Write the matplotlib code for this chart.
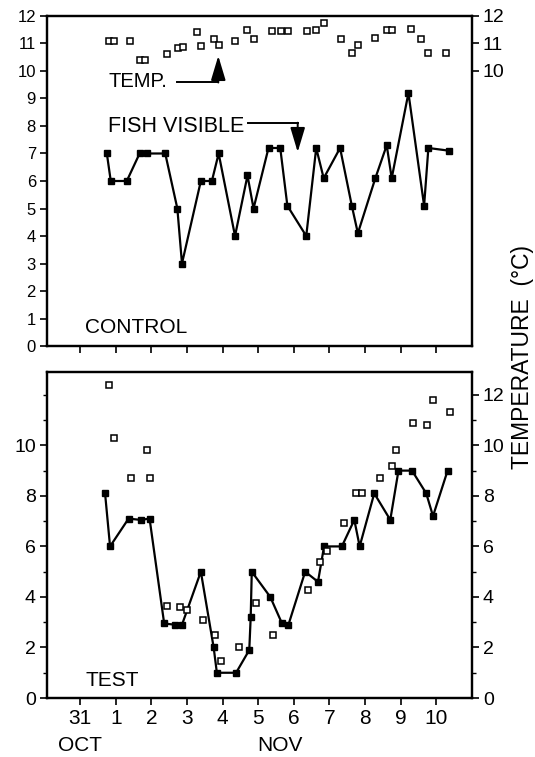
import matplotlib.pyplot as plt
from matplotlib.ticker import MultipleLocator
from matplotlib.transforms import blended_transform_factory

plt.rcParams["font.family"] = ["Liberation Sans", "DejaVu Sans"]

# times are days after the 31 Oct tick mark
ctrl_fish_t = [0.75, 0.86, 1.31, 1.67, 1.87, 2.39, 2.73, 2.86, 3.39, 3.70,
               3.89, 4.35, 4.70, 4.87, 5.29, 5.62, 5.82, 6.35, 6.63, 6.84,
               7.30, 7.63, 7.80, 8.29, 8.61, 8.75, 9.22, 9.66, 9.78, 10.37]
ctrl_fish = [7, 6, 6, 7, 7, 7, 5, 3, 6, 6,
             7, 4, 6.2, 5, 7.2, 7.2, 5.1, 4, 7.2, 6.1,
             7.2, 5.1, 4.1, 6.1, 7.3, 6.1, 9.2, 5.1, 7.2, 7.1]

ctrl_temp_t = [0.82, 0.94, 1.40, 1.67, 1.83, 2.43, 2.76, 2.90, 3.28, 3.39,
               3.75, 3.89, 4.35, 4.68, 4.87, 5.38, 5.65, 5.85, 6.37, 6.63,
               6.85, 7.33, 7.63, 7.79, 8.29, 8.61, 8.75, 9.29, 9.57, 9.76, 10.27]
ctrl_temp = [11.1, 11.1, 11.1, 10.4, 10.4, 10.6, 10.85, 10.87, 11.4, 10.9,
             11.15, 10.93, 11.1, 11.5, 11.18, 11.45, 11.45, 11.45, 11.45, 11.5,
             11.75, 11.17, 10.64, 10.93, 11.21, 11.5, 11.5, 11.54, 11.18, 10.64, 10.64]

test_fish_t = [0.70, 0.84, 1.36, 1.70, 1.95, 2.36, 2.67, 2.86, 3.39, 3.75,
               3.84, 4.38, 4.75, 4.79, 4.82, 5.34, 5.67, 5.85, 6.32, 6.68,
               6.85, 7.35, 7.70, 7.85, 8.26, 8.71, 8.94, 9.32, 9.72, 9.91, 10.32]
test_fish = [8.1, 6, 7.1, 7.05, 7.1, 2.95, 2.9, 2.9, 5, 2,
             1, 1, 1.9, 3.2, 5, 4, 2.95, 2.9, 5, 4.6,
             6, 6, 7.05, 6, 8.1, 7.05, 9, 9, 8.1, 7.2, 9]

test_temp_t = [0.80, 0.94, 1.42, 1.89, 1.95, 2.45, 2.81, 3.00, 3.44, 3.79,
               3.95, 4.45, 4.94, 5.43, 6.41, 6.74, 6.93, 7.40, 7.75, 7.91,
               8.43, 8.76, 8.88, 9.36, 9.74, 9.92, 10.39]
test_temp = [12.4, 10.3, 8.72, 9.8, 8.69, 3.65, 3.6, 3.49, 3.1, 2.5,
             1.48, 2.01, 3.76, 2.5, 4.26, 5.37, 5.81, 6.93, 8.12, 8.12,
             8.72, 9.18, 9.8, 10.9, 10.79, 11.79, 11.3]

day_ticks = list(range(0, 11))
day_labels = ["31", "1", "2", "3", "4", "5", "6", "7", "8", "9", "10"]

XLIM = (-0.93, 11.0)
ARROW = dict(arrowstyle="-|>,head_length=1.5,head_width=0.45",
             color="black", lw=1.4, shrinkA=0, shrinkB=0)


def _style_ax(ax):
    for s in ax.spines.values():
        s.set_linewidth(1.6)
    ax.tick_params(direction="out", length=5, width=1.2, pad=3)
    ax.tick_params(which="minor", direction="out", length=3, width=1.0)


def _draw_panel(ax, fish_t, fish, temp_t, temp):
    ax.plot(fish_t, fish, color="black", lw=1.6, marker="s", ms=4.5,
            mfc="black", mec="black", zorder=3)
    ax.plot(temp_t, temp, ls="none", marker="s", ms=4.2, mfc="white",
            mec="black", mew=1.1, zorder=3)
    ax.set_xlim(*XLIM)
    ax.set_xticks(day_ticks)


fig = plt.figure(figsize=(5.35, 7.57), dpi=100)

# control panel
ax1 = fig.add_axes([0.0879, 0.5429, 0.794, 0.436])
_draw_panel(ax1, ctrl_fish_t, ctrl_fish, ctrl_temp_t, ctrl_temp)
ax1.set_ylim(0, 12)
ax1.set_yticks(range(0, 13))
ax1.tick_params(axis="y", labelsize=12)
ax1.set_xticklabels([])
_style_ax(ax1)
ax1r = ax1.twinx()
ax1r.set_ylim(0, 12)
ax1r.set_yticks([10, 11, 12])
ax1r.tick_params(axis="y", labelsize=14)
_style_ax(ax1r)

ax1.text(0.09, 0.028, "CONTROL", transform=ax1.transAxes, fontsize=15,
         ha="left", va="bottom")
ax1.text(0.79, 9.62, "TEMP.", fontsize=14.5, ha="left", va="center")
ax1.plot([2.72, 3.88], [9.61, 9.61], color="black", lw=1.4)
ax1.annotate("", xy=(3.88, 10.55), xytext=(3.88, 9.58), arrowprops=ARROW)
ax1.text(0.79, 7.98, "FISH VISIBLE", fontsize=15.5, ha="left", va="center")
ax1.plot([4.72, 6.11], [8.1, 8.1], color="black", lw=1.4)
ax1.annotate("", xy=(6.11, 7.05), xytext=(6.11, 8.12), arrowprops=ARROW)

# test panel
ax2 = fig.add_axes([0.0879, 0.0779, 0.794, 0.4306])
_draw_panel(ax2, test_fish_t, test_fish, test_temp_t, test_temp)
ax2.set_ylim(0, 12.9)
ax2.set_yticks(range(0, 11, 2))
ax2.yaxis.set_minor_locator(MultipleLocator(1))
ax2.set_xticklabels(day_labels, fontsize=15)
ax2.tick_params(axis="y", labelsize=14)
_style_ax(ax2)
ax2r = ax2.twinx()
ax2r.set_ylim(0, 12.9)
ax2r.set_yticks(range(0, 13, 2))
ax2r.yaxis.set_minor_locator(MultipleLocator(1))
ax2r.tick_params(axis="y", labelsize=14)
_style_ax(ax2r)

ax2.text(0.09, 0.025, "TEST", transform=ax2.transAxes, fontsize=15,
         ha="left", va="bottom")

trans = blended_transform_factory(ax2.transData, ax2.transAxes)
ax2.text(0.0, -0.145, "OCT", transform=trans, fontsize=15, ha="center", va="center")
ax2.text(5.6, -0.145, "NOV", transform=trans, fontsize=15, ha="center", va="center")

fig.text(0.976, 0.528, "TEMPERATURE  (°C)", rotation=90, fontsize=16.5,
         ha="center", va="center")

fig.savefig("out.png", dpi=100)
